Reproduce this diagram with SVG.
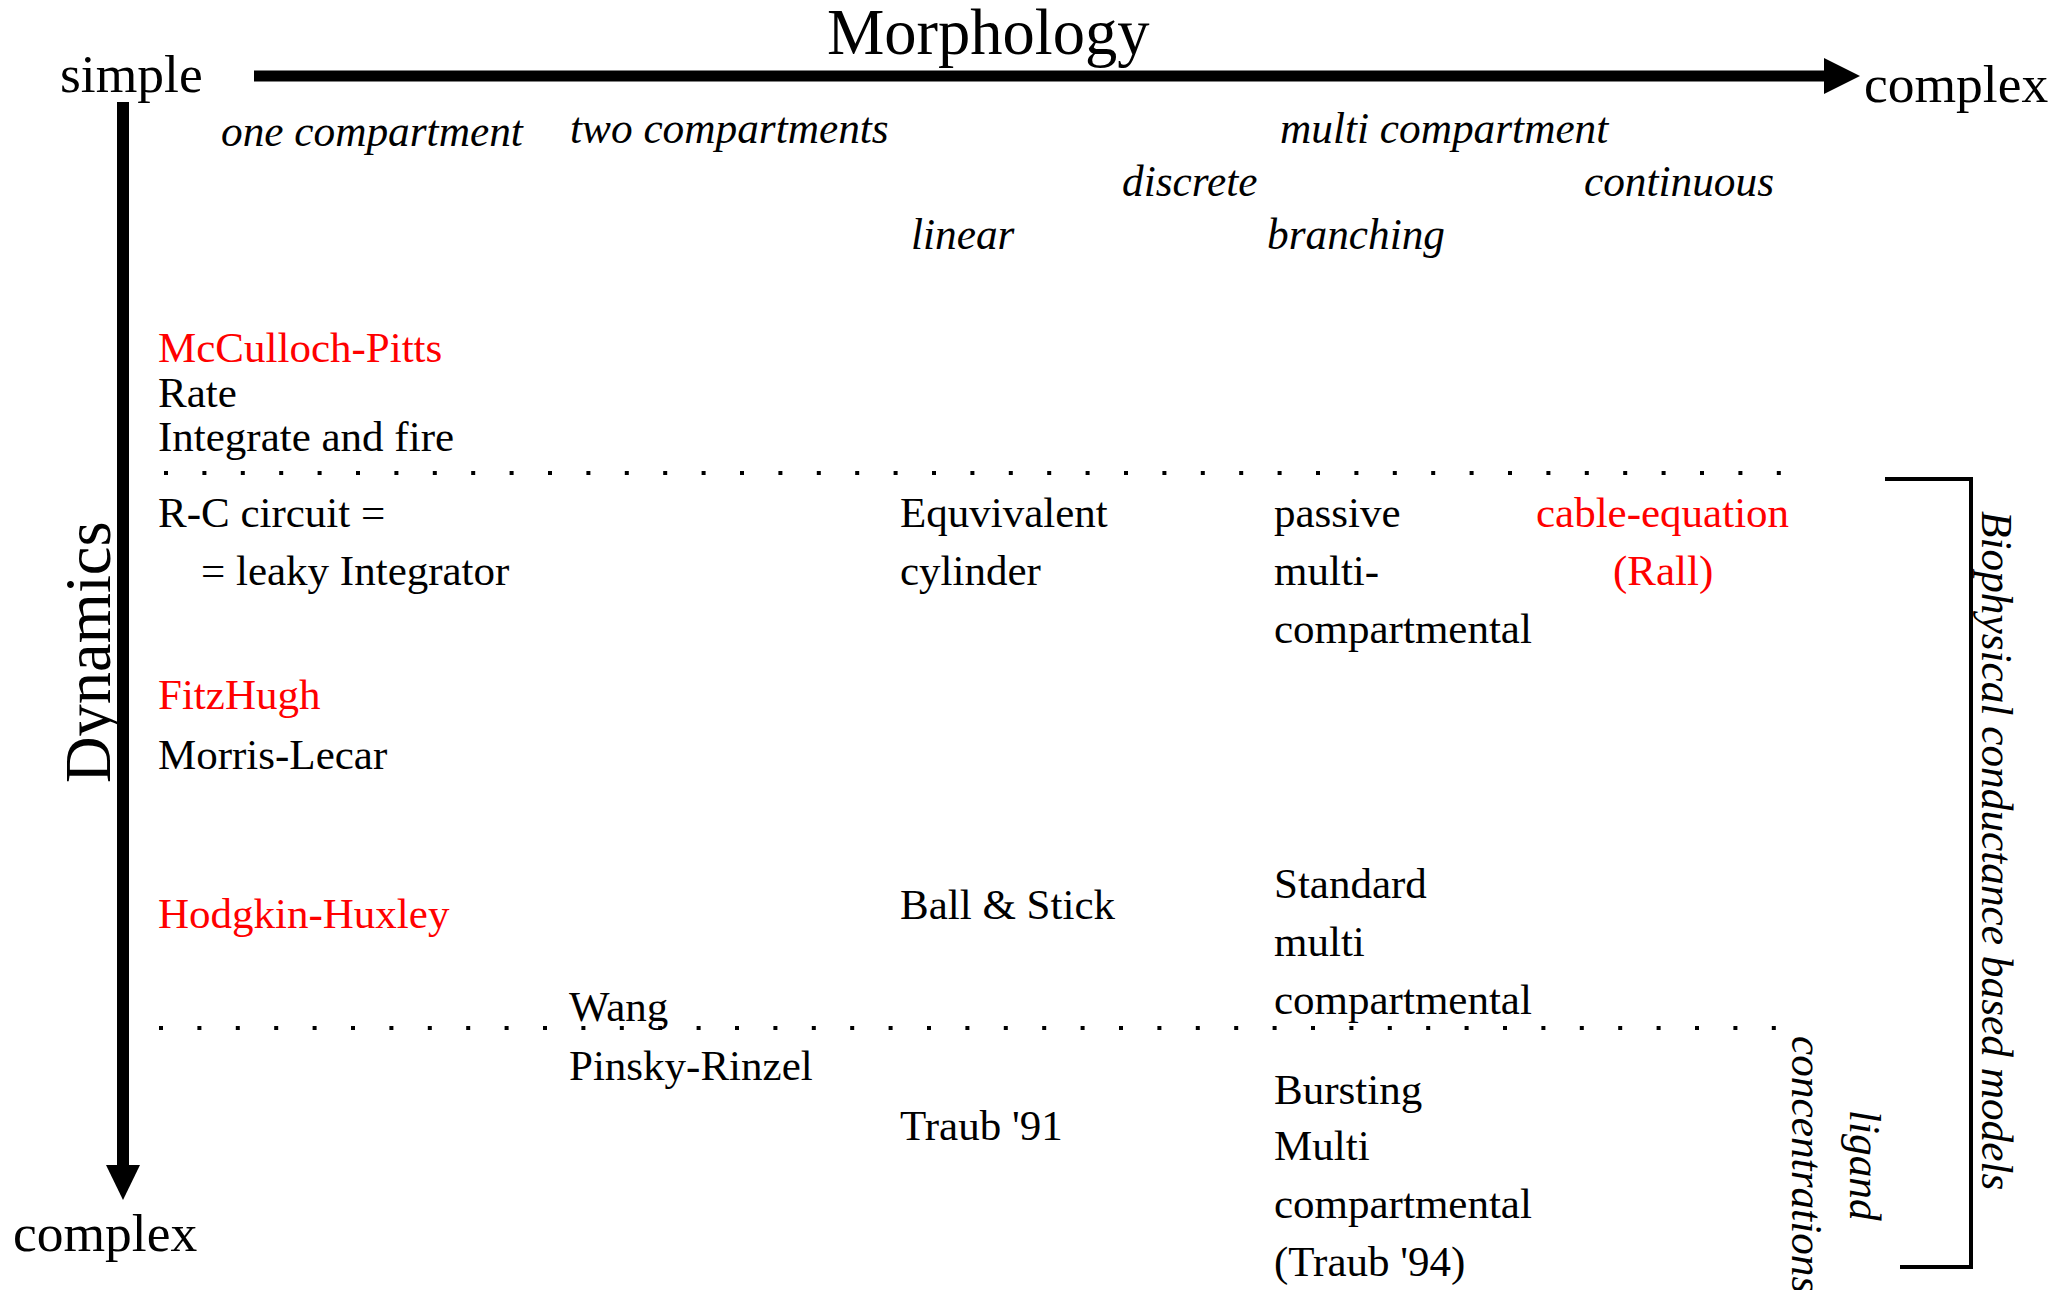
<svg xmlns="http://www.w3.org/2000/svg" width="2065" height="1290" viewBox="0 0 2065 1290">
<style>
text{font-family:"Liberation Serif","Times New Roman",serif;fill:#000}
.ax{font-size:53.5px}
.big{font-size:64.5px}
.lb{font-size:43.3px;font-style:italic}
.t{font-size:43px}
.red{fill:#ff0000}
.dots{stroke:#000;stroke-width:4;stroke-dasharray:4 34.4;fill:none}
</style>
<g id="connectors">
<line x1="254" y1="76" x2="1826" y2="76" stroke="#000" stroke-width="11"/>
<polygon points="1824,58 1860,76 1824,94" fill="#000"/>
<line x1="123" y1="102" x2="123" y2="1167" stroke="#000" stroke-width="12"/>
<polygon points="106,1165 123,1200 140,1165" fill="#000"/>
<line class="dots" x1="164" y1="473" x2="1790" y2="473"/>
<line class="dots" x1="159" y1="1028" x2="1785" y2="1028"/>
<polyline points="1885,479 1971,479 1971,1267 1900,1267" fill="none" stroke="#000" stroke-width="4"/>
</g>
<g id="axis-labels">
<text class="big" x="827" y="54">Morphology</text>
<text class="ax" x="60" y="92">simple</text>
<text class="ax" x="1864" y="102">complex</text>
<text class="ax" x="13" y="1251">complex</text>
<text class="big" transform="translate(110,783) rotate(-90)">Dynamics</text>
</g>
<g id="morphology-labels">
<text class="lb" x="221" y="146">one compartment</text>
<text class="lb" x="570" y="143">two compartments</text>
<text class="lb" x="1280" y="143">multi compartment</text>
<text class="lb" x="1122" y="196">discrete</text>
<text class="lb" x="1584" y="196">continuous</text>
<text class="lb" x="911" y="249">linear</text>
<text class="lb" x="1267" y="249">branching</text>
</g>
<g id="node-simple">
<text class="t red" x="158" y="362">McCulloch-Pitts</text>
<text class="t" x="158" y="407">Rate</text>
<text class="t" x="158" y="451">Integrate and fire</text>
</g>
<g id="node-rc">
<text class="t" x="158" y="527">R-C circuit =</text>
<text class="t" x="201" y="585">= leaky Integrator</text>
</g>
<g id="node-fitzhugh">
<text class="t red" x="158" y="709">FitzHugh</text>
<text class="t" x="158" y="769">Morris-Lecar</text>
</g>
<g id="node-hh">
<text class="t red" x="158" y="928">Hodgkin-Huxley</text>
</g>
<g id="node-wang">
<text class="t" x="569" y="1021">Wang</text>
<text class="t" x="569" y="1080">Pinsky-Rinzel</text>
</g>
<g id="node-equiv">
<text class="t" x="900" y="527">Equvivalent</text>
<text class="t" x="900" y="585">cylinder</text>
</g>
<g id="node-passive">
<text class="t" x="1274" y="527">passive</text>
<text class="t" x="1274" y="585">multi-</text>
<text class="t" x="1274" y="643">compartmental</text>
</g>
<g id="node-cable">
<text class="t red" x="1536" y="527">cable-equation</text>
<text class="t red" x="1613" y="585">(Rall)</text>
</g>
<g id="node-ballstick">
<text class="t" x="900" y="919">Ball &amp; Stick</text>
</g>
<g id="node-standard">
<text class="t" x="1274" y="898">Standard</text>
<text class="t" x="1274" y="956">multi</text>
<text class="t" x="1274" y="1014">compartmental</text>
</g>
<g id="node-traub91">
<text class="t" x="900" y="1140">Traub '91</text>
</g>
<g id="node-bursting">
<text class="t" x="1274" y="1104">Bursting</text>
<text class="t" x="1274" y="1160">Multi</text>
<text class="t" x="1274" y="1218">compartmental</text>
<text class="t" x="1274" y="1276">(Traub '94)</text>
</g>
<g id="side-labels">
<text class="lb" transform="translate(1982,511) rotate(90)">Biophysical conductance based models</text>
<text class="lb" transform="translate(1850,1110) rotate(90)">ligand</text>
<text class="lb" transform="translate(1792,1036) rotate(90)">concentrations</text>
</g>
</svg>
